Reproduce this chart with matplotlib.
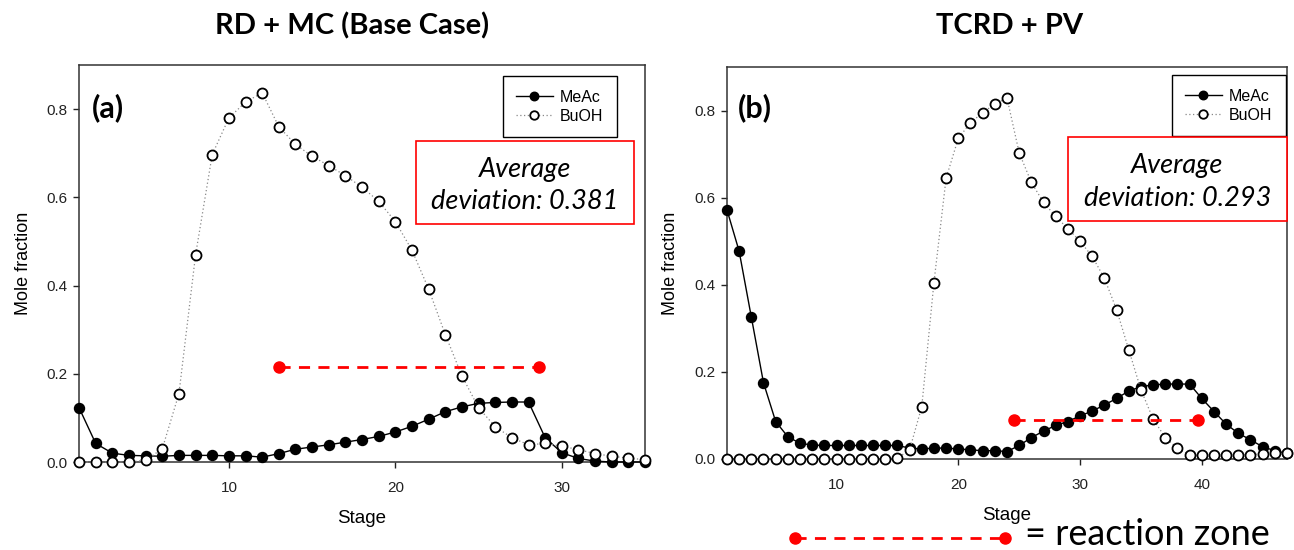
import matplotlib
matplotlib.use("Agg")
import matplotlib.pyplot as plt
from matplotlib.patches import Rectangle
from matplotlib.lines import Line2D

# --- data: liquid mole fraction profiles along the column ---
stages_a = list(range(1, 36))
meac_a = [0.123, 0.042, 0.020, 0.015, 0.014, 0.013, 0.015, 0.015, 0.015, 0.014,
          0.014, 0.011, 0.019, 0.029, 0.034, 0.039, 0.045, 0.051, 0.058, 0.068,
          0.081, 0.097, 0.114, 0.125, 0.133, 0.135, 0.136, 0.136, 0.055, 0.021,
          0.008, 0.002, 0.000, 0.000, 0.000]
buoh_a = [0.000, 0.000, 0.000, 0.000, 0.004, 0.030, 0.155, 0.470, 0.697, 0.780,
          0.816, 0.837, 0.760, 0.720, 0.693, 0.672, 0.649, 0.623, 0.591, 0.545,
          0.480, 0.392, 0.289, 0.195, 0.123, 0.080, 0.055, 0.039, 0.042, 0.036,
          0.028, 0.019, 0.013, 0.009, 0.005]

stages_b = list(range(1, 48))
meac_b = [0.572, 0.477, 0.326, 0.175, 0.086, 0.051, 0.036, 0.032, 0.031, 0.031,
          0.031, 0.031, 0.031, 0.031, 0.031, 0.025, 0.023, 0.025, 0.025, 0.023,
          0.021, 0.019, 0.019, 0.017, 0.031, 0.049, 0.064, 0.077, 0.086, 0.099,
          0.110, 0.124, 0.139, 0.156, 0.166, 0.170, 0.172, 0.172, 0.172, 0.139,
          0.109, 0.080, 0.059, 0.044, 0.028, 0.019, 0.013]
buoh_b = [0.000, 0.000, 0.000, 0.000, 0.000, 0.000, 0.000, 0.000, 0.000, 0.000,
          0.000, 0.000, 0.000, 0.000, 0.002, 0.021, 0.120, 0.405, 0.645, 0.736,
          0.772, 0.795, 0.815, 0.829, 0.703, 0.635, 0.589, 0.557, 0.529, 0.500,
          0.465, 0.415, 0.343, 0.251, 0.159, 0.092, 0.049, 0.025, 0.009, 0.008,
          0.008, 0.008, 0.009, 0.010, 0.012, 0.013, 0.013]

# reaction zone (start stage, end stage, plotted height)
zone_a = (13.0, 28.6, 0.216)
zone_b = (24.6, 39.7, 0.090)

titles = ["RD + MC (Base Case)", "TCRD + PV"]
panel_tags = ["(a)", "(b)"]
deviations = [0.381, 0.293]

calibri_like = "Lato"
plt.rcParams["font.family"] = ["Liberation Sans", "DejaVu Sans"]

fig = plt.figure(figsize=(12.94, 5.5), dpi=100)
ax_a = fig.add_axes([0.0611, 0.160, 0.4374, 0.7218])
ax_b = fig.add_axes([0.5618, 0.1655, 0.4328, 0.7127])


def draw_panel(ax, stages, meac, buoh, zone, xmax, xticks):
    ax.plot(stages, meac, color="black", lw=1.0, marker="o", ms=7.2,
            mfc="black", mec="black", clip_on=False, zorder=3, label="MeAc")
    ax.plot(stages, buoh, color="#888888", lw=0.9, ls=(0, (1, 2)), marker="o",
            ms=7.2, mfc="white", mec="black", mew=1.3, clip_on=False,
            zorder=4, label="BuOH")
    ax.plot([zone[0], zone[1]], [zone[2], zone[2]], color="red", lw=2,
            ls=(0, (4, 3)), marker="o", ms=8, mfc="red", mec="red", zorder=5)
    ax.set_xlim(1, xmax)
    ax.set_ylim(0, 0.9)
    ax.set_xticks(xticks)
    ax.set_yticks([0.0, 0.2, 0.4, 0.6, 0.8])
    ax.set_yticklabels(["0.0", "0.2", "0.4", "0.6", "0.8"])
    ax.tick_params(direction="out", length=4.5, width=1, labelsize=11,
                   colors="#222222")
    ax.tick_params(axis="x", pad=9)
    for s in ax.spines.values():
        s.set_linewidth(1.1)
        s.set_color("#333333")
    ax.set_xlabel("Stage", fontsize=13.5, labelpad=11)
    ax.set_ylabel("Mole fraction", fontsize=13, labelpad=11)


draw_panel(ax_a, stages_a, meac_a, buoh_a, zone_a, 35, [10, 20, 30])
draw_panel(ax_b, stages_b, meac_b, buoh_b, zone_b, 47, [10, 20, 30, 40])

# titles and panel letters
fig.text(0.272, 0.953, titles[0], ha="center", va="center", fontsize=21,
         fontweight="bold", family=calibri_like)
fig.text(0.780, 0.953, titles[1], ha="center", va="center", fontsize=21,
         fontweight="bold", family=calibri_like)
fig.text(0.071, 0.805, panel_tags[0], ha="left", va="center", fontsize=22,
         fontweight="bold", family=calibri_like)
fig.text(0.570, 0.805, panel_tags[1], ha="left", va="center", fontsize=22,
         fontweight="bold", family=calibri_like)

# legends
leg_anchor = [(0.4768, 0.8618), (0.9938, 0.8636)]
for ax, anchor in zip([ax_a, ax_b], leg_anchor):
    leg = ax.legend(loc="upper right", bbox_to_anchor=anchor,
                    bbox_transform=fig.transFigure, fancybox=False,
                    edgecolor="black", fontsize=11.5, handlelength=2.3,
                    borderpad=0.85, labelspacing=0.25, handletextpad=0.45,
                    borderaxespad=0, framealpha=1, markerscale=0.85)
    leg.get_frame().set_linewidth(1.0)

# deviation boxes
dev_boxes = [(0.3215, 0.5927, 0.1685, 0.1509), (0.8253, 0.598, 0.1692, 0.1527)]
for (x0, y0, w, h), dev in zip(dev_boxes, deviations):
    fig.patches.append(Rectangle((x0, y0), w, h, transform=fig.transFigure,
                                 fill=True, facecolor="white",
                                 edgecolor="red", lw=1.2, zorder=10))
    fig.text(x0 + w / 2, y0 + h * 0.66, "Average", ha="center", va="center",
             fontsize=19.5, style="italic", family=calibri_like, zorder=11)
    fig.text(x0 + w / 2, y0 + h * 0.27, f"deviation: {dev:.3f}", ha="center",
             va="center", fontsize=19.5, style="italic", family=calibri_like,
             zorder=11)

# reaction zone key below panel (b)
fig.add_artist(Line2D([0.6144, 0.7767], [0.0218, 0.0218], color="red", lw=2,
                      ls=(0, (4, 3)), marker="o", ms=8, mfc="red", mec="red",
                      transform=fig.transFigure))
fig.text(0.792, 0.009, "= reaction zone", ha="left", va="baseline",
         fontsize=26, family=calibri_like)

fig.savefig("out.png", dpi=100)
